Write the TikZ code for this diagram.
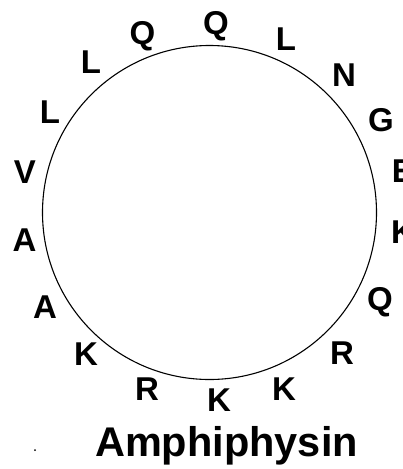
\documentclass[tikz,border=0pt]{standalone}
\usepackage{fontspec}
\setmainfont{Liberation Sans}
\usepackage{tikz}
\usetikzlibrary{positioning,calc}

\tikzset{
	res/.style={font=\bfseries\fontsize{33}{33}\selectfont, inner sep=0pt},
	title/.style={font=\bfseries\fontsize{41.5}{41.5}\selectfont, inner sep=0pt}
}

\begin{document}
\begin{tikzpicture}[x=1pt, y=-1pt]
		\useasboundingbox (0,0) rectangle (403,469);

		\node[draw, circle, line width=1.1pt, minimum size=334pt, inner sep=0pt] (helix) at (209.5,212.5) {};

		% residues, clockwise from the top
		\node[res] (r1) at (216,26) {Q};
		\node[res] (r2) at (286,39) {L};
		\node[res] (r3) at (344,75) {N};
		\node[res] (r4) at (381,120) {G};
		\node[res] (r5) at (403,171) {E};
		\node[res] (r6) at (403,232) {K};
		\node[res] (r7) at (380,302) {Q};
		\node[res] (r8) at (342,353) {R};
		\node[res] (r9) at (284,389) {K};
		\node[res] (r10) at (219,400) {K};
		\node[res] (r11) at (147,389) {R};
		\node[res] (r12) at (86,354) {K};
		\node[res] (r13) at (45,307) {A};
		\node[res] (r14) at (24.5,240) {A};
		\node[res] (r15) at (25,172) {V};
		\node[res] (r16) at (50,112) {L};
		\node[res] (r17) at (91,62) {L};
		\node[res] (r18) at (142.5,36) {Q};

		\node[title] (name) at (226.5,446) {Amphiphysin};

		\fill (35,450) circle (1pt);
	\end{tikzpicture}
\end{document}
